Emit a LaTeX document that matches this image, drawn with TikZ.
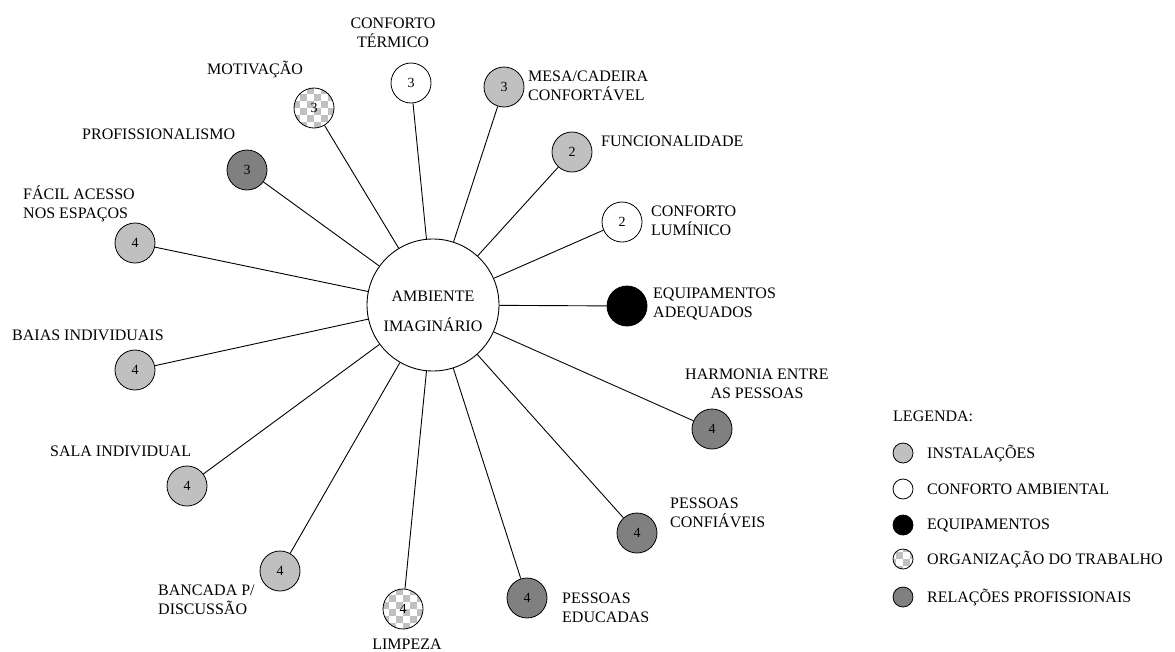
\documentclass[tikz,border=0pt]{standalone}
\usepackage{fontspec}
\setmainfont{Liberation Serif}
\definecolor{lg}{HTML}{C0C0C0}
\definecolor{dg}{HTML}{808080}
\begin{document}
\begin{tikzpicture}[x=1pt,y=-1pt,
  lab/.style={font=\fontsize{16}{18.5}\selectfont, inner sep=0pt, align=left, anchor=west},
  labc/.style={lab, align=center, anchor=center},
  sat/.style={circle, draw=black, line width=0.8pt, minimum size=40pt, inner sep=0pt, font=\fontsize{14}{14}\selectfont},
  leg/.style={sat, minimum size=20pt},
  inst/.style={fill=lg},
  conf/.style={fill=white},
  equip/.style={fill=black},
  rel/.style={fill=dg},
  org/.style={fill=lg, path picture={
     \foreach \a in {-4,...,3}{\foreach \b in {-4,...,3}{
       \pgfmathtruncatemacro{\m}{mod(\a+\b+8,2)}
       \ifnum\m=0
         \fill[white] ([shift={(\a*7pt,\b*7pt)}]path picture bounding box.center) rectangle ++(7pt,7pt);
       \fi}}}},
  link/.style={draw=black, line width=0.9pt}]
\useasboundingbox (0,0) rectangle (1175,651);

% centre
\node[circle, draw=black, line width=0.9pt, fill=white, minimum size=132pt, inner sep=0pt] (c) at (433,305) {};
\node[font=\fontsize{16}{30}\selectfont, align=center, inner sep=0pt] (ctext) at (433,311) {AMBIENTE\\IMAGINÁRIO};

% satellites
\node[sat,conf]  (ct)  at (411,83)  {3};
\node[sat,org]   (mot) at (314,108) {3};
\node[sat,inst]  (mes) at (504,87)  {3};
\node[sat,rel]   (pro) at (247,170) {3};
\node[sat,inst]  (fun) at (572,152) {2};
\node[sat,conf]  (lum) at (622,222) {2};
\node[sat,inst]  (fac) at (135,243) {4};
\node[sat,equip] (eq)  at (627,306) {};
\node[sat,inst]  (bai) at (135,370) {4};
\node[sat,rel]   (har) at (712,429) {4};
\node[sat,inst]  (sal) at (187,486) {4};
\node[sat,rel]   (pcf) at (637,533) {4};
\node[sat,inst]  (ban) at (280,571) {4};
\node[sat,org]   (lim) at (403,609) {4};
\node[sat,rel]   (ped) at (527,598) {4};

\foreach \n in {ct,mot,mes,pro,fun,lum,fac,eq,bai,har,sal,pcf,ban,lim,ped}
  \draw[link] (c) -- (\n);

% labels
\node[labc] (lct)  at (393,33)  {CONFORTO\\TÉRMICO};
\node[lab]  (lmot) at (207,70)  {MOTIVAÇÃO};
\node[lab]  (lmes) at (528,86)  {MESA/CADEIRA\\CONFORTÁVEL};
\node[lab]  (lpro) at (82,134)  {PROFISSIONALISMO};
\node[lab]  (lfun) at (601,141) {FUNCIONALIDADE};
\node[lab]  (llum) at (651,221) {CONFORTO\\LUMÍNICO};
\node[lab]  (lfac) at (23,204)  {FÁCIL ACESSO\\NOS ESPAÇOS};
\node[lab]  (leq)  at (653,304) {EQUIPAMENTOS\\ADEQUADOS};
\node[lab]  (lbai) at (12,335)  {BAIAS INDIVIDUAIS};
\node[labc] (lhar) at (757,384) {HARMONIA ENTRE\\AS PESSOAS};
\node[lab]  (lsal) at (50,451)  {SALA INDIVIDUAL};
\node[lab]  (lpcf) at (670,513) {PESSOAS\\CONFIÁVEIS};
\node[lab]  (lban) at (158,600) {BANCADA P/\\DISCUSSÃO};
\node[labc] (llim) at (407,644) {LIMPEZA};
\node[lab]  (lped) at (562,608) {PESSOAS\\EDUCADAS};

% legend
\node[lab] (lleg) at (893,416) {LEGENDA:};
\node[leg,inst]  (g1) at (903,453) {};
\node[leg,conf]  (g2) at (903,489) {};
\node[leg,equip] (g3) at (903,525) {};
\node[leg,org]   (g4) at (903,559) {};
\node[leg,rel]   (g5) at (903,597) {};
\node[lab] (t1) at (927,453) {INSTALAÇÕES};
\node[lab] (t2) at (927,489) {CONFORTO AMBIENTAL};
\node[lab] (t3) at (927,525) {EQUIPAMENTOS};
\node[lab] (t4) at (927,559) {ORGANIZAÇÃO DO TRABALHO};
\node[lab] (t5) at (927,597) {RELAÇÕES PROFISSIONAIS};
\end{tikzpicture}
\end{document}
